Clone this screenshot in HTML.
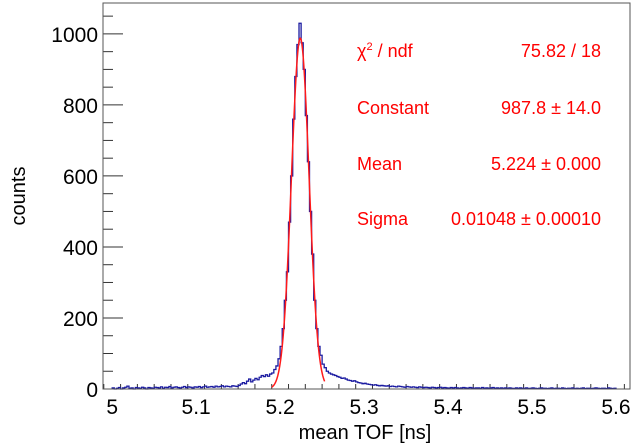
<!DOCTYPE html>
<html><head><meta charset="utf-8"><style>
html,body{margin:0;padding:0;background:#fff;}
svg{display:block;font-family:"Liberation Sans",sans-serif;}
</style></head><body>
<svg id="chart" width="641" height="447">
<rect x="0" y="0" width="641" height="447" fill="#fff"/>
<g id="axes"></g>
<path id="hist" fill="none" stroke="#1a1aa0" stroke-width="1.3"/>
<path id="fit" fill="none" stroke="#ff1a1a" stroke-width="1.5"/>
<rect x="103" y="3" width="527" height="386" fill="none" stroke="#555" stroke-width="1"/>
<g id="stats" fill="#ff0000" font-size="18"></g>
<text x="365" y="439" text-anchor="middle" font-size="20" fill="#000">mean TOF [ns]</text>
<text transform="translate(25,196) rotate(-90)" text-anchor="middle" font-size="20" fill="#000">counts</text>
</svg>
<script>
const binStart = 5.0;
const binWidth = 0.0025;
const counts = [
3,0,2,4,0,3,5,8,2,3,0,4,3,2,5,3,0,4,3,2,
5,4,3,6,2,5,4,7,3,5,6,4,3,5,7,4,6,5,3,6,
5,7,4,6,8,5,6,7,5,8,6,7,9,6,8,7,6,9,8,7,
10,14,18,15,22,28,20,25,30,26,33,38,35,40,36,42,
45,55,65,85,120,170,250,330,470,600,760,880,970,1030,975,900,
770,640,500,380,250,170,120,95,70,60,50,45,42,40,38,35,
33,30,31,28,25,24,22,23,20,18,17,15,16,14,13,12,11,12,10,9,
10,9,8,9,7,8,7,6,8,7,6,5,7,6,5,6,5,4,6,5,
4,5,4,3,5,4,3,4,5,3,4,3,2,4,3,4,3,2,3,4,
3,2,4,3,2,3,3,2,4,2,3,2,3,4,2,3,2,3,2,3,
2,3,2,1,3,2,3,2,2,3,1,2,3,2,1,2,3,2,2,1,
2,3,1,2,2,1,3,2,1,2,2,3,1,2,1,2,3,1,2,2,
1,2,3,2,1,2,2,1,3,2,1,2
];
const fitParams = [987.8, 5.224, 0.01048];
const fitRange = [5.19, 5.253];
const xTickLabels = ["5","5.1","5.2","5.3","5.4","5.5","5.6"];
const yTickLabels = ["0","200","400","600","800","1000"];
const statLabels = ["\u03c7\u00b2 / ndf","Constant","Mean","Sigma"];
const statValues = ["75.82 / 18","987.8 \u00b1 14.0","5.224 \u00b1 0.000","0.01048 \u00b1 0.00010"];

const X0=103,X1=630,Y0=389,Y1=3;
const xmin=4.98905, xmax=5.6167, ymin=0, ymax=1087;
function sx(v){return X0+(v-xmin)/(xmax-xmin)*(X1-X0);}
function sy(v){return Y0-(v-ymin)/(ymax-ymin)*(Y0-Y1);}
const NS="http://www.w3.org/2000/svg";
const axes=document.getElementById('axes');
function mk(tag,attrs,parent){const e=document.createElementNS(NS,tag);for(const k in attrs)e.setAttribute(k,attrs[k]);parent.appendChild(e);return e;}

let d="M"+sx(binStart)+","+sy(0);
counts.forEach((c,i)=>{const a=binStart+i*binWidth,b=a+binWidth;d+=" L"+sx(a)+","+sy(c)+" L"+sx(b)+","+sy(c);});
d+=" L"+sx(binStart+counts.length*binWidth)+","+sy(0);
document.getElementById('hist').setAttribute('d',d);

let fd="";
for(let i=0;i<=200;i++){const x=fitRange[0]+(fitRange[1]-fitRange[0])*i/200;const y=fitParams[0]*Math.exp(-0.5*Math.pow((x-fitParams[1])/fitParams[2],2));fd+=(i?" L":"M")+sx(x).toFixed(2)+","+sy(y).toFixed(2);}
document.getElementById('fit').setAttribute('d',fd);

for(let i=0;i<=31;i++){const v=4.99+i*0.02; if(v<xmin||v>xmax)continue;
 const major=Math.abs(v*10-Math.round(v*10))<1e-6;
 const t=mk('line',{x1:sx(v),x2:sx(v),y1:Y0,y2:Y0-(major?11:5),stroke:'#333','stroke-width':1},axes);
 
 
}
xTickLabels.forEach(l=>{const v=parseFloat(l);
 const t=mk('text',{x:sx(v),y:414,'text-anchor':'middle','font-size':21,fill:'#000'},axes);t.textContent=l;
 
 
});
for(let v=0;v<=1050;v+=50){
 const major=v%200===0;
 const t=mk('line',{x1:X0,x2:X0+(major?20:10),y1:sy(v),y2:sy(v),stroke:'#333','stroke-width':1},axes);
 
 
}
yTickLabels.forEach(l=>{const v=parseFloat(l);
 const t=mk('text',{x:98,y:sy(v)+8,'text-anchor':'end','font-size':21,fill:'#000'},axes);t.textContent=l;
 
 
});
const stats=document.getElementById('stats');
const rowY=[57,114,170,225];
statLabels.forEach((l,i)=>{
 const a=mk('text',{x:357,y:rowY[i]},stats);
 if(i===0){a.innerHTML='\u03c7<tspan font-size="11" dy="-7">2</tspan><tspan dy="7"> / ndf</tspan>';} else a.textContent=l;
 
 
 const b=mk('text',{x:601,y:rowY[i],'text-anchor':'end'},stats);b.textContent=statValues[i];
 
 
});
</script>
</body></html>
